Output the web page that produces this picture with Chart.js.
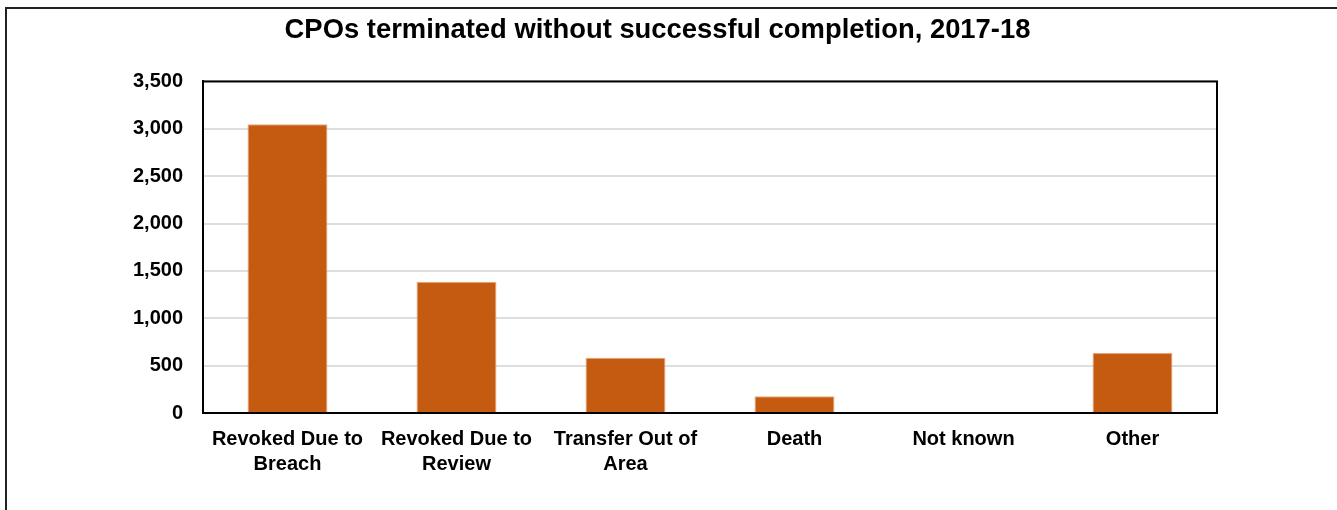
<!DOCTYPE html>
<html>
<head>
<meta charset="utf-8">
<script src="https://cdn.jsdelivr.net/npm/chart.js@4"></script>
<style>
  html, body { margin: 0; padding: 0; background: #fff; overflow: hidden; }
  #wrap { position: relative; width: 1337px; height: 510px; }
  #frame { position: absolute; left: 5px; top: 7px; width: 1400px; height: 600px;
           border-left: 2px solid #222; border-top: 2px solid #222; box-sizing: border-box; pointer-events: none; }
  canvas { position: absolute; left: 0; top: 0; }
</style>
</head>
<body>
<div id="wrap">
  <canvas id="c" width="1337" height="510"></canvas>
  <div id="frame"></div>
</div>
<script>
const titleText = "CPOs terminated without successful completion, 2017-18";
const categories = [
  ["Revoked Due to", "Breach"],
  ["Revoked Due to", "Review"],
  ["Transfer Out of", "Area"],
  ["Death"],
  ["Not known"],
  ["Other"]
];
const values = [3048, 1386, 584, 178, 0, 634];
const yTicks = [0, 500, 1000, 1500, 2000, 2500, 3000, 3500];

const FONT = "'Liberation Sans', Arial, sans-serif";

const plotFrame = {
  id: 'plotFrame',
  afterDraw(chart) {
    const a = chart.chartArea, ctx = chart.ctx;
    ctx.save();
    ctx.strokeStyle = '#000';
    ctx.lineWidth = 2;
    ctx.strokeRect(a.left, a.top, a.right - a.left, a.bottom - a.top);
    ctx.restore();
  }
};

new Chart(document.getElementById('c'), {
  type: 'bar',
  data: {
    labels: categories,
    datasets: [{
      data: values,
      backgroundColor: '#C55A11',
      borderColor: '#E9A57A',
      borderWidth: 1,
      barPercentage: 0.473,
      categoryPercentage: 1
    }]
  },
  options: {
    responsive: false,
    animation: false,
    devicePixelRatio: 1,
    layout: { padding: { left: 98, right: 120, top: 0, bottom: 0 } },
    plugins: {
      legend: { display: false },
      tooltip: { enabled: false },
      title: {
        display: true,
        text: titleText,
        color: '#000',
        font: { family: FONT, size: 27.4, weight: 'bold', lineHeight: 1.2 },
        padding: { top: 14, bottom: 34.6 }
      }
    },
    scales: {
      x: {
        grid: { display: false, drawTicks: false },
        border: { display: true, color: '#000', width: 2 },
        ticks: {
          color: '#000',
          font: { family: FONT, size: 20, weight: 'bold', lineHeight: 1.25 },
          padding: 14,
          maxRotation: 0,
          autoSkip: false
        },
        afterFit(s) { s.height = 97; }
      },
      y: {
        min: 0, max: 3500,
        afterBuildTicks(s) { s.ticks = yTicks.map(v => ({ value: v })); },
        grid: {
          drawTicks: false,
          color: '#dedede',
          lineWidth: 2
        },
        border: { display: true, color: '#000', width: 2 },
        ticks: {
          color: '#000',
          font: { family: FONT, size: 20, weight: 'bold' },
          padding: 20,
          callback: v => v.toLocaleString('en-US')
        },
        afterFit(s) { s.width = 105; }
      }
    }
  },
  plugins: [plotFrame]
});
</script>
</body>
</html>
